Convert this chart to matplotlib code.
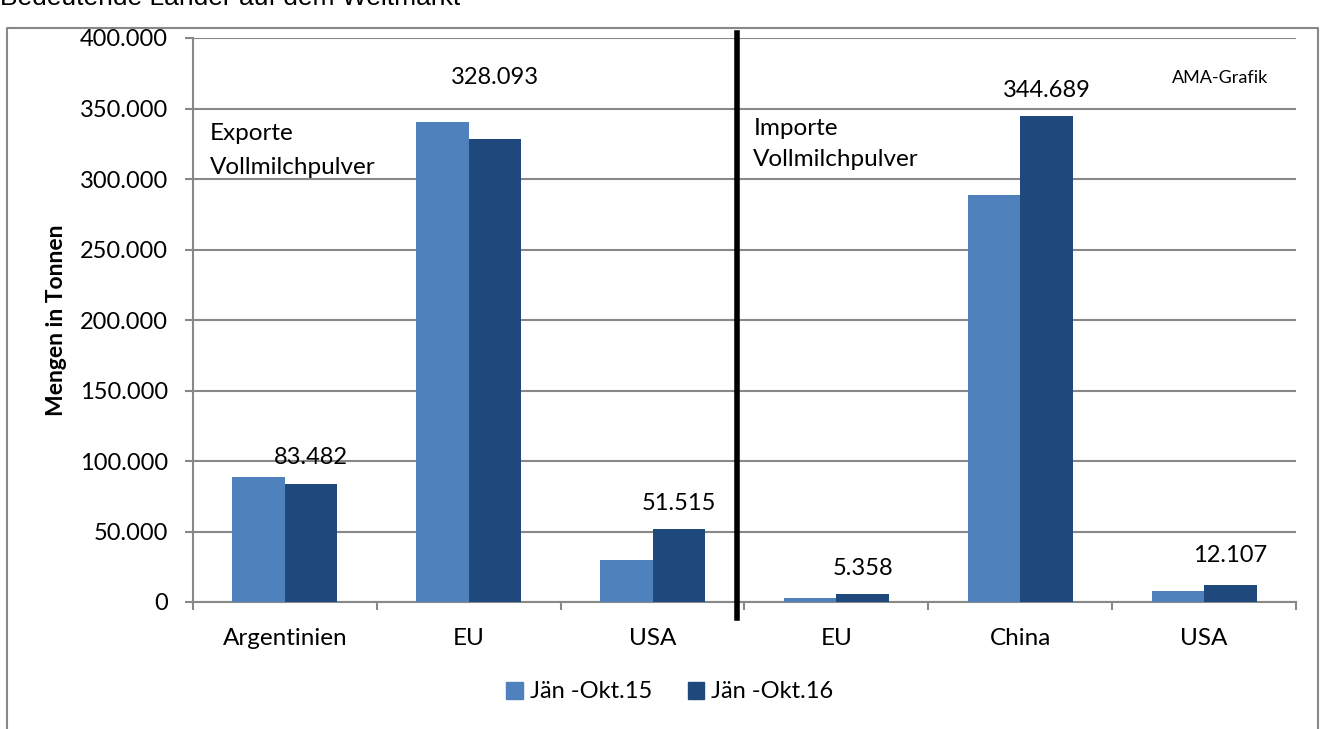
import matplotlib
matplotlib.use("Agg")
import matplotlib.pyplot as plt
from matplotlib.lines import Line2D
from matplotlib.patches import Patch
import numpy as np

categories = ["Argentinien", "EU", "USA", "EU", "China", "USA"]
series_names = ["Jän -Okt.15", "Jän -Okt.16"]
values_2015 = [88900, 340400, 29800, 2800, 288700, 7800]
values_2016 = [83482, 328093, 51515, 5358, 344689, 12107]
label_texts = ["83.482", "328.093", "51.515", "5.358", "344.689", "12.107"]
label_y = [102800, 372300, 70200, 24100, 363100, 33300]
yticks = [0, 50000, 100000, 150000, 200000, 250000, 300000, 350000, 400000]

def fmt(v):
    return f"{v:,}".replace(",", ".")

plt.rcParams['font.family'] = ['Lato', 'DejaVu Sans']
c15 = "#4F81BD"
c16 = "#1F497D"
grey = "#888888"

W, H = 1329, 729
fig = plt.figure(figsize=(W / 100, H / 100), dpi=100)
ax = fig.add_axes([193 / W, 1 - 602 / H, (1296 - 193) / W, (602 - 38) / H])

x = np.arange(len(categories))
bw = 0.286
ax.bar(x - bw / 2, values_2015, bw, color=c15, label=series_names[0], zorder=3)
ax.bar(x + bw / 2, values_2016, bw, color=c16, label=series_names[1], zorder=3)

for i, (t, yy) in enumerate(zip(label_texts, label_y)):
    ax.text(i + bw / 2, yy, t, ha="center", va="center", fontsize=17, color="black", zorder=4)

ax.set_xlim(-0.5, len(categories) - 0.5)
ax.set_ylim(0, 400000)
ax.set_yticks(yticks)
ax.set_yticklabels([fmt(v) for v in yticks], fontsize=17)
ax.yaxis.grid(True, color=grey, linewidth=1.5, zorder=0)
ax.set_axisbelow(True)

ax.set_xticks(x)
ax.set_xticklabels(categories, fontsize=17.5)
ax.set_xticks(np.arange(-0.5, len(categories)), minor=True)
ax.tick_params(axis="x", which="major", length=0, pad=19)
ax.tick_params(axis="x", which="minor", length=6, width=1.5, color=grey, direction="out")
ax.tick_params(axis="y", length=6, width=1.5, color=grey, direction="out", pad=12)

for s in ["top", "right"]:
    ax.spines[s].set_visible(False)
for s in ["left", "bottom"]:
    ax.spines[s].set_color(grey)
    ax.spines[s].set_linewidth(1.5)

ax.set_ylabel("Mengen in Tonnen", fontsize=16.5, fontweight="bold", labelpad=9)

# separator line
ax.add_line(Line2D([2.46, 2.46], [-11500, 403500], color="black", linewidth=4, clip_on=False, zorder=5))

ax.text(0.0154, 0.801, "Exporte\nVollmilchpulver", transform=ax.transAxes, fontsize=17.5,
        ha="left", va="center", linespacing=1.75)
ax.text(0.508, 0.812, "Importe\nVollmilchpulver", transform=ax.transAxes, fontsize=17.5,
        ha="left", va="center", linespacing=1.6)
ax.text(0.975, 0.929, "AMA-Grafik", transform=ax.transAxes, fontsize=13, ha="right", va="center")

handles = [Patch(color=c15), Patch(color=c16)]
fig.legend(handles, series_names, loc="center", bbox_to_anchor=(670 / W, 1 - 692 / H),
           ncol=2, frameon=False, fontsize=17, handlelength=0.7, handleheight=0.7,
           handletextpad=0.3, columnspacing=1.5)

# outer frame (left, top, right)
fx0, fx1, fy = 7 / W, 1318 / W, 1 - 28 / H
fig.add_artist(Line2D([fx0, fx0, fx1, fx1], [0, fy, fy, 0], transform=fig.transFigure,
                      color=grey, linewidth=1.5))

fig.text(0.0, 1 - 5 / H, "Bedeutende Länder auf dem Weltmarkt", fontsize=19,
         family=['Liberation Sans', 'DejaVu Sans'], ha="left", va="baseline")

fig.savefig("out.png", dpi=100)
